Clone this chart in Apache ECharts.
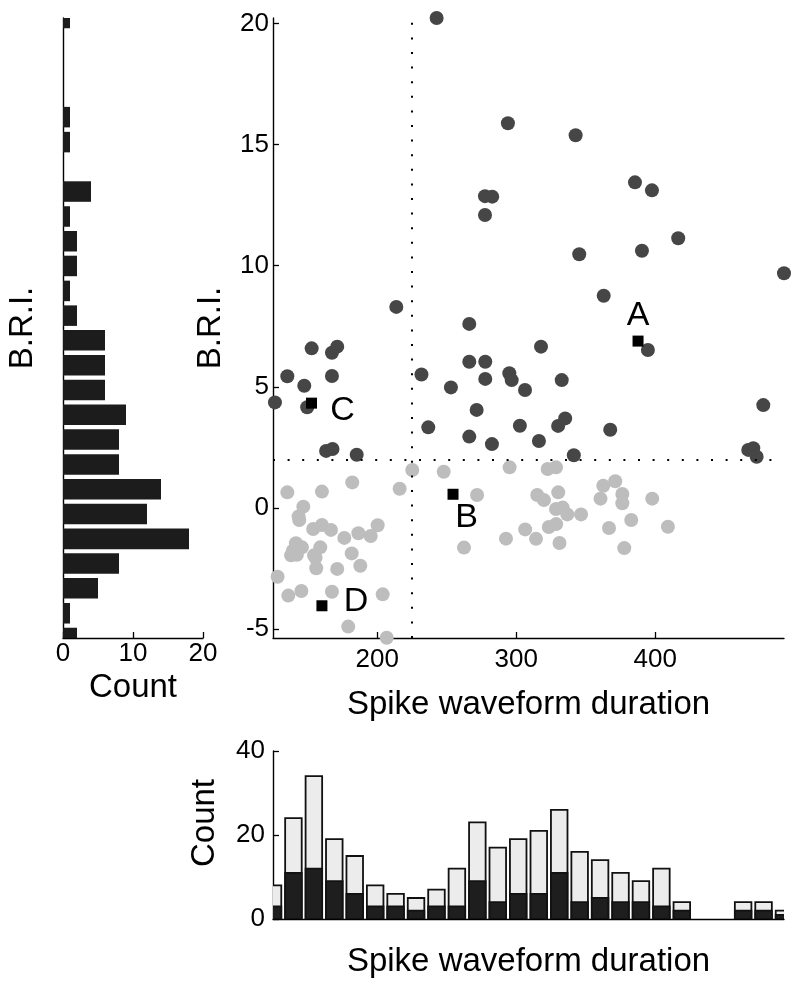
<!DOCTYPE html>
<html><head><meta charset="utf-8">
<script src="https://cdn.jsdelivr.net/npm/echarts@6/dist/echarts.min.js"></script>
<style>html,body{margin:0;padding:0;background:#fff}#c{width:800px;height:987px}</style>
</head><body><div id="c"></div>
<script>
// ---------- DATA ----------
const briRange = [-5.36, 20.22];
const durRange = [125, 492.6];
const briTicks = [-5, 0, 5, 10, 15, 20];
const durTicks = [200, 300, 400];
const durThreshold = 225;
const briThreshold = 2;
const briThresholdLineEnd = 484;

// left histogram (B.R.I.)
const briBinCenters = [20.22, 19.20, 18.17, 17.15, 16.13, 15.10, 14.08, 13.06, 12.03, 11.01, 9.99, 8.96, 7.94, 6.92, 5.89, 4.87, 3.85, 2.83, 1.80, 0.78, -0.24, -1.27, -2.29, -3.31, -4.34, -5.36];
const briCounts     = [1, 0, 0, 0, 1, 1, 0, 4, 1, 2, 2, 1, 2, 6, 6, 6, 9, 8, 8, 14, 12, 18, 8, 5, 1, 2];

// bottom histogram (spike waveform duration)
const durBinCenters = [125.0, 139.7, 154.4, 169.1, 183.8, 198.5, 213.2, 227.9, 242.6, 257.3, 272.0, 286.7, 301.4, 316.2, 330.9, 345.6, 360.3, 375.0, 389.7, 404.4, 419.1, 433.8, 448.5, 463.2, 477.9, 492.6];
const durTotal      = [8, 24, 34, 19, 15, 8, 6, 5, 7, 12, 23, 17, 19, 21, 26, 16, 14, 11, 9, 12, 4, 0, 0, 4, 4, 2];
const durHighBRI    = [3, 11, 12, 9, 6, 3, 3, 2, 3, 3, 9, 4, 6, 6, 11, 4, 5, 4, 4, 3, 2, 0, 0, 2, 2, 1];

// scatter: units with high B.R.I. (dark) and low B.R.I. (light)
const highBRIUnits = [
  [242.7, 20.22], [294.0, 15.88], [342.7, 15.38], [385.4, 13.44], [397.6, 13.11], [277.5, 12.87],
  [282.7, 12.85], [277.5, 12.09], [416.5, 11.13], [390.4, 10.62], [345.3, 10.47], [492.6, 9.69],
  [362.9, 8.76], [213.7, 8.30], [266.2, 7.60], [317.8, 6.66], [394.7, 6.52], [266.2, 6.04], [277.7, 6.04],
  [231.8, 5.51], [277.7, 5.33], [295.0, 5.56], [296.7, 5.28], [253.0, 4.98], [306.3, 4.87],
  [332.7, 5.28], [271.5, 4.05], [236.7, 3.33], [302.6, 3.40], [335.2, 3.70], [330.1, 3.39],
  [266.2, 2.95], [282.5, 2.64], [316.3, 2.77], [341.4, 2.18], [367.6, 3.23], [477.7, 4.25],
  [466.9, 2.40], [470.5, 2.47], [472.9, 2.12], [126.4, 4.36], [135.3, 5.44], [147.5, 5.05],
  [152.8, 6.59], [167.4, 6.41], [171.2, 6.66], [167.4, 5.45], [149.6, 4.16], [163.2, 2.36],
  [167.8, 2.44], [185.2, 2.20]
];
const lowBRIUnits = [
  [225.2, 1.57], [247.8, 1.50], [295.2, 1.68], [216.1, 0.80], [182.0, 1.06], [135.3, 0.65],
  [160.2, 0.68], [146.8, 0.06], [143.4, -0.35], [143.9, -0.49], [153.9, -0.86], [160.2, -0.70],
  [166.7, -0.90], [176.3, -1.23], [186.4, -1.04], [195.3, -1.15], [200.3, -0.71], [139.3, -1.76],
  [142.2, -1.93], [145.8, -1.62], [159.0, -1.62], [155.6, -2.05], [156.1, -2.48], [181.6, -1.87],
  [187.8, -2.38], [171.2, -2.51], [128.3, -2.83], [136.0, -3.61], [145.4, -3.42], [167.4, -3.45],
  [203.9, -3.56], [179.1, -4.89], [206.8, -5.35], [262.4, -1.63], [271.8, 0.54], [292.6, -1.26],
  [306.4, -0.88], [322.6, 1.61], [328.6, 1.68], [314.2, -1.27], [315.1, 0.54], [319.9, 0.33],
  [330.2, 0.65], [328.6, -0.04], [333.4, 0.02], [336.7, -0.26], [346.6, -0.26], [323.4, -0.78],
  [328.7, -0.66], [331.1, -1.44], [362.6, 0.92], [371.2, 1.11], [360.6, 0.39], [376.3, 0.58],
  [376.3, 0.20], [397.8, 0.39], [382.7, -0.49], [366.7, -0.82], [409.1, -0.77], [377.7, -1.65],
  [138.0, -1.95], [154.5, -1.95], [141.5, -1.45]
];
const exampleNames = ['A', 'B', 'C', 'D'];
const exampleUnits = [[387.6, 6.89], [254.5, 0.57], [152.7, 4.33], [160.2, -4.03]];

// ---------- STYLE ----------
const FONT = "'Liberation Sans', Arial, Helvetica, sans-serif";
const TICK_FONT = 26, TITLE_FONT = 33, LETTER_FONT = 34;
const labelOffsets = { A: [5.5, -19.5], B: [19, 29], C: [36.5, 12.5], D: [39.5, 1.5] };
const BRI_BAR_FRAC = 0.83, DUR_BAR_FRAC = 0.81;

const chart = echarts.init(document.getElementById('c'), null, { renderer: 'canvas' });
const line = { show: true, onZero: false, lineStyle: { color: '#000', width: 1.4 } };
const tickStyle = { color: '#000', width: 1.3 };
const lbl = (extra) => Object.assign({ color: '#000', fontSize: TICK_FONT, fontFamily: FONT }, extra);
const title = (extra) => Object.assign({ color: '#000', fontSize: TITLE_FONT, fontFamily: FONT }, extra);

const briStep = briBinCenters[0] - briBinCenters[1];
const durStep = durBinCenters[1] - durBinCenters[0];

const option = {
  animation: false,
  backgroundColor: '#fff',
  textStyle: { fontFamily: FONT },
  grid: [
    { left: 273, top: 18, width: 511, height: 620, containLabel: false, outerBoundsMode: 'none' },
    { left: 63, top: 18, width: 140, height: 620, containLabel: false, outerBoundsMode: 'none' },
    { left: 273, top: 751, width: 511, height: 168, containLabel: false, outerBoundsMode: 'none' }
  ],
  xAxis: [
    { gridIndex: 0, type: 'value', min: durRange[0], max: durRange[1], splitLine: { show: false },
      axisLine: line,
      axisTick: { show: true, inside: true, length: 6, customValues: durTicks, lineStyle: tickStyle },
      axisLabel: lbl({ customValues: durTicks, margin: 9 }),
      name: 'Spike waveform duration', nameLocation: 'middle', nameGap: 50, nameTextStyle: title({}) },
    { gridIndex: 1, type: 'value', min: 0, max: 20, interval: 10, splitLine: { show: false },
      axisLine: line,
      axisTick: { show: true, inside: true, length: 6, lineStyle: tickStyle },
      axisLabel: lbl({ margin: 3 }),
      name: 'Count', nameLocation: 'middle', nameGap: 29, nameTextStyle: title({}) },
    { gridIndex: 2, type: 'value', min: durRange[0], max: durRange[1], splitLine: { show: false },
      axisLine: line, axisTick: { show: false }, axisLabel: { show: false },
      name: 'Spike waveform duration', nameLocation: 'middle', nameGap: 26, nameTextStyle: title({}) }
  ],
  yAxis: [
    { gridIndex: 0, type: 'value', min: briRange[0], max: briRange[1], splitLine: { show: false },
      axisLine: line,
      axisTick: { show: true, inside: true, length: 6, customValues: briTicks, lineStyle: tickStyle },
      axisLabel: lbl({ customValues: briTicks, margin: 4 }),
      name: 'B.R.I.', nameLocation: 'middle', nameGap: 46, nameTextStyle: title({}) },
    { gridIndex: 1, type: 'value', min: briRange[0], max: briRange[1], splitLine: { show: false },
      axisLine: line, axisTick: { show: false }, axisLabel: { show: false },
      name: 'B.R.I.', nameLocation: 'middle', nameGap: 24, nameTextStyle: title({}) },
    { gridIndex: 2, type: 'value', min: 0, max: 40, interval: 20, splitLine: { show: false },
      axisLine: line,
      axisTick: { show: true, inside: true, length: 6, lineStyle: tickStyle },
      axisLabel: lbl({ margin: 8 }),
      name: 'Count', nameLocation: 'middle', nameGap: 52, nameTextStyle: title({ padding: [0, 0, 0, 24] }) }
  ],
  series: [
    { type: 'scatter', xAxisIndex: 0, yAxisIndex: 0, data: lowBRIUnits, symbol: 'circle', symbolSize: 14,
      itemStyle: { color: '#bdbdbd', opacity: 1 }, z: 3 },
    { type: 'scatter', xAxisIndex: 0, yAxisIndex: 0, data: highBRIUnits, symbol: 'circle', symbolSize: 14,
      itemStyle: { color: '#464646', opacity: 1 }, z: 4,
      markLine: { silent: true, symbol: 'none', animation: false, label: { show: false },
        lineStyle: { color: '#000', type: [2, 12.6], width: 2 },
        data: [
          [{ coord: [durThreshold, briRange[0]] }, { coord: [durThreshold, briRange[1]] }],
          [{ coord: [durRange[0], briThreshold] }, { coord: [briThresholdLineEnd, briThreshold] }]
        ] } },
    { type: 'scatter', xAxisIndex: 0, yAxisIndex: 0, symbol: 'rect', symbolSize: 11, z: 6,
      itemStyle: { color: '#000', opacity: 1 },
      data: exampleUnits.map((p, i) => ({ value: p, name: exampleNames[i],
        label: { show: true, position: labelOffsets[exampleNames[i]], align: 'center', verticalAlign: 'middle',
          formatter: exampleNames[i], fontSize: LETTER_FONT, color: '#000', fontFamily: FONT } })) },
    { type: 'custom', xAxisIndex: 1, yAxisIndex: 1, clip: true,
      data: briBinCenters.map((c, i) => [c, briCounts[i]]),
      encode: { x: 1, y: 0 },
      renderItem: (params, api) => {
        const c = api.value(0), n = api.value(1);
        if (!n) return { type: 'group', children: [] };
        const half = BRI_BAR_FRAC * briStep / 2;
        const p0 = api.coord([0, c + half]), p1 = api.coord([n, c - half]);
        return { type: 'rect', shape: { x: p0[0], y: p0[1], width: p1[0] - p0[0], height: p1[1] - p0[1] },
          style: { fill: '#1c1c1c' } };
      } },
    { type: 'custom', xAxisIndex: 2, yAxisIndex: 2, clip: true,
      data: durBinCenters.map((c, i) => [c, durTotal[i], durHighBRI[i]]),
      encode: { x: 0, y: 1 },
      renderItem: (params, api) => {
        const c = api.value(0), tot = api.value(1), dk = api.value(2);
        if (!tot) return { type: 'group', children: [] };
        const half = DUR_BAR_FRAC * durStep / 2;
        const a = api.coord([c - half, tot]), b = api.coord([c + half, 0]), d = api.coord([c - half, dk]);
        return { type: 'group', children: [
          { type: 'rect', shape: { x: a[0], y: a[1], width: b[0] - a[0], height: b[1] - a[1] },
            style: { fill: '#ececec', stroke: '#111', lineWidth: 1.8 } },
          { type: 'rect', shape: { x: d[0], y: d[1], width: b[0] - d[0], height: b[1] - d[1] },
            style: { fill: '#1e1e1e', stroke: '#111', lineWidth: 1.8 } }
        ] };
      } }
  ]
};
chart.setOption(option);
</script>
</body></html>
